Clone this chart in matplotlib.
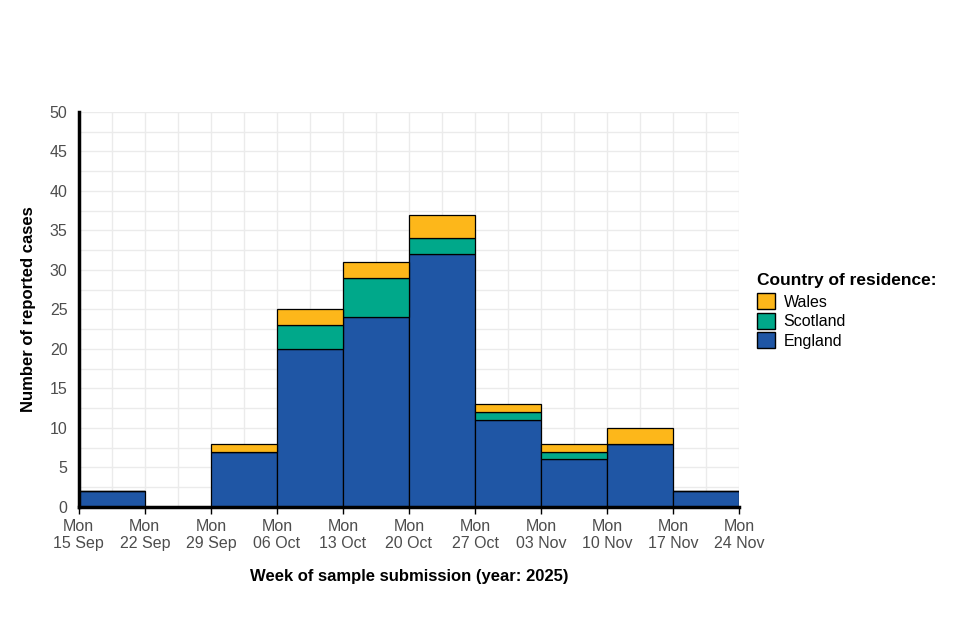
import numpy as np
import matplotlib.pyplot as plt
from matplotlib.patches import Patch

plt.rcParams['font.family'] = ['Liberation Sans', 'DejaVu Sans']

weeks = ['15 Sep', '22 Sep', '29 Sep', '06 Oct', '13 Oct', '20 Oct',
         '27 Oct', '03 Nov', '10 Nov', '17 Nov', '24 Nov']
england = [2, 0, 7, 20, 24, 32, 11, 6, 8, 2]
scotland = [0, 0, 0, 3, 5, 2, 1, 1, 0, 0]
wales = [0, 0, 1, 2, 2, 3, 1, 1, 2, 0]

col_eng = '#1F56A5'
col_sco = '#00A88A'
col_wal = '#FDB71A'

fig = plt.figure(figsize=(9.6, 6.4), dpi=100)
ax = fig.add_axes([0.082, 0.208, 0.688, 0.617])

x = np.arange(len(england))
eng = np.array(england)
sco = np.array(scotland)
wal = np.array(wales)

ax.bar(x, eng, width=1, align='edge', color=col_eng, edgecolor='black', linewidth=0.9, zorder=3)
ax.bar(x, sco, width=1, align='edge', bottom=eng, color=col_sco, edgecolor='black', linewidth=0.9, zorder=3)
ax.bar(x, wal, width=1, align='edge', bottom=eng + sco, color=col_wal, edgecolor='black', linewidth=0.9, zorder=3)

ax.set_xlim(0, len(weeks) - 1)
ax.set_ylim(0, 50)
ax.set_xticks(np.arange(len(weeks)))
ax.set_xticklabels(['Mon\n' + w for w in weeks], linespacing=1.15)
ax.set_yticks(np.arange(0, 51, 5))
ax.set_xticks(np.arange(len(weeks) - 1) + 0.5, minor=True)
ax.set_yticks(np.arange(2.5, 50, 5), minor=True)
ax.tick_params(axis='x', which='major', colors='black', labelcolor='#4D4D4D',
               labelsize=11.5, length=5, width=1, pad=4)
ax.tick_params(axis='y', which='major', length=0, labelcolor='#4D4D4D', labelsize=11.5, pad=8)
ax.tick_params(which='minor', length=0)
ax.grid(True, which='both', color='#EBEBEB', linewidth=1, zorder=0)
ax.set_axisbelow(True)

for s in ['top', 'right']:
    ax.spines[s].set_visible(False)
ax.spines['left'].set_linewidth(2.5)
ax.spines['bottom'].set_linewidth(2.5)
ax.spines['left'].set_zorder(5)
ax.spines['bottom'].set_zorder(5)

ax.set_ylabel('Number of reported cases', fontsize=12, fontweight='bold', labelpad=10)
ax.set_xlabel('Week of sample submission (year: 2025)', fontsize=12, fontweight='bold', labelpad=13)

handles = [Patch(facecolor=col_wal, edgecolor='black', label='Wales'),
           Patch(facecolor=col_sco, edgecolor='black', label='Scotland'),
           Patch(facecolor=col_eng, edgecolor='black', label='England')]
leg = fig.legend(handles=handles, title='Country of residence:', loc='upper left',
                 bbox_to_anchor=(0.782, 0.584), frameon=False, fontsize=11.5,
                 title_fontproperties={'weight': 'bold', 'size': 12.5},
                 handlelength=1.15, handleheight=1.15, handletextpad=0.5,
                 labelspacing=0.2, borderaxespad=0)
leg._legend_box.align = 'left'
leg._legend_box.sep = 4

fig.savefig('out.png', dpi=100)
